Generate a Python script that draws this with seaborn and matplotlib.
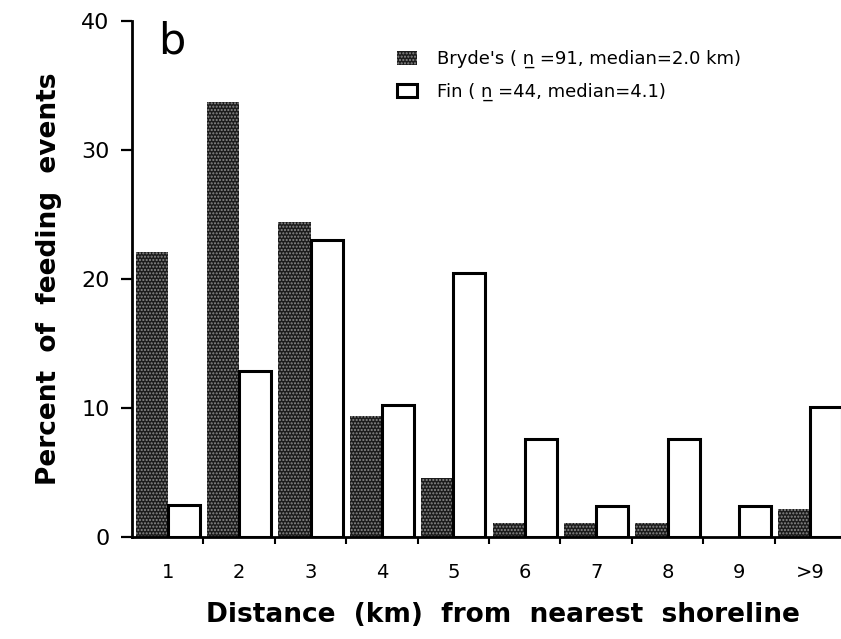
import pandas as pd
import matplotlib
matplotlib.use("Agg")
import matplotlib.pyplot as plt
import seaborn as sns
from matplotlib.patches import Patch

# distance bins (km from nearest shoreline)
distances = ["1", "2", "3", "4", "5", "6", "7", "8", "9", ">9"]
# percent of feeding events
brydes = [22.1, 33.7, 24.4, 9.4, 4.6, 1.1, 1.1, 1.1, 0.0, 2.2]
fin = [2.5, 12.9, 23.0, 10.2, 20.5, 7.6, 2.4, 7.6, 2.4, 10.1]
species = ["Bryde's", "Fin"]
legend_labels = ["Bryde's ( n\u0332 =91, median=2.0 km)",
                 "Fin ( n\u0332 =44, median=4.1)"]

df = pd.DataFrame({
    "distance": distances * 2,
    "percent": brydes + fin,
    "species": [species[0]] * len(distances) + [species[1]] * len(distances),
})

sns.set_style("ticks")
plt.rcParams["font.family"] = ["DejaVu Sans"]
for key in ["text.color", "axes.labelcolor", "xtick.color", "ytick.color",
            "axes.edgecolor"]:
    plt.rcParams[key] = "black"

fig = plt.figure(figsize=(8.41, 6.39), dpi=100)
ax = fig.add_axes([132 / 841, 1 - 537 / 639, 714 / 841, 516 / 639])

dark = "#1c1c1c"
speckle = "#8c8c8c"

sns.barplot(data=df, x="distance", y="percent", hue="species",
            palette=[dark, "white"], width=0.9, gap=0,
            order=distances, hue_order=species, legend=False, ax=ax,
            errorbar=None)

n = len(distances)
for i, bar in enumerate(ax.patches[:2 * n]):
    if i < n:
        # stippled dark bars
        bar.set_facecolor(dark)
        bar.set_edgecolor(speckle)
        bar.set_hatch(".....")
        bar.set_linewidth(0)
    else:
        bar.set_facecolor("white")
        bar.set_edgecolor("black")
        bar.set_linewidth(2.2)

ax.set_xlim(-0.5, n - 0.5)
ax.set_ylim(0, 40)
ax.set_yticks([0, 10, 20, 30, 40])
ax.tick_params(axis="y", length=8, width=1.6, labelsize=16, pad=8)
ax.tick_params(axis="x", which="major", length=0, labelsize=14, pad=19)
ax.set_xticks([i + 0.5 for i in range(n - 1)], minor=True)
ax.tick_params(axis="x", which="minor", length=5, width=1.5, direction="out")

for side in ["top", "right"]:
    ax.spines[side].set_visible(False)
ax.spines["left"].set_linewidth(2)
ax.spines["bottom"].set_linewidth(2)

ax.set_xlabel("Distance  (km)  from  nearest  shoreline", fontsize=19,
              fontweight="bold")
ax.xaxis.set_label_coords(0.52, -0.125)
ax.set_ylabel("Percent  of  feeding  events", fontsize=19,
              fontweight="bold", labelpad=14)

ax.text(0.036, 1.0, "b", transform=ax.transAxes, fontsize=31,
        va="top", ha="left")

handles = [Patch(facecolor=dark, edgecolor=speckle, hatch=".....",
                 linewidth=0),
           Patch(facecolor="white", edgecolor="black", linewidth=2.2)]
fig.legend(handles, legend_labels, loc="upper left",
           bbox_to_anchor=(397 / 841, 1 - 50 / 639), frameon=False,
           fontsize=13, borderpad=0, borderaxespad=0, handlelength=1.1,
           handleheight=0.8, handletextpad=1.1, labelspacing=0.8)

fig.savefig("out.png", dpi=100)
